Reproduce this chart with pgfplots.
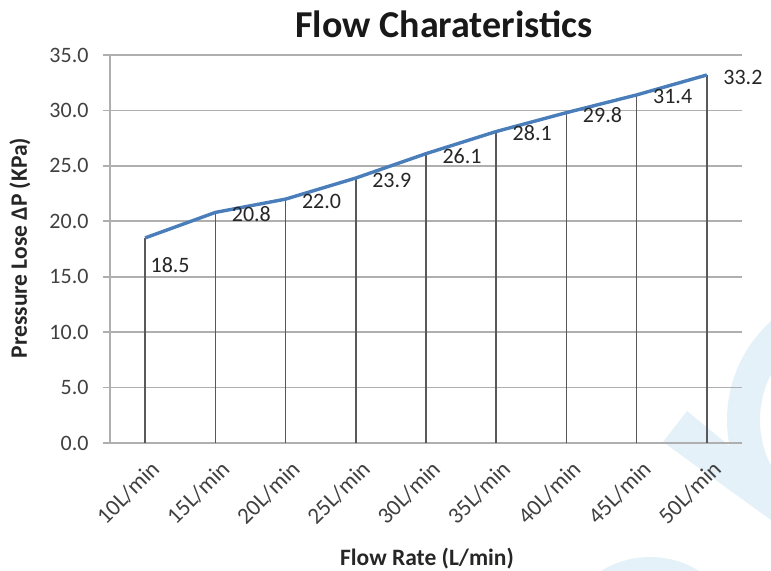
\documentclass[border=0pt]{standalone}
\usepackage{pgfplots}
\pgfplotsset{compat=1.18}
\usepackage{fontspec}
\setmainfont{Carlito}
\definecolor{wm}{RGB}{228,241,248}
\definecolor{linebl}{RGB}{74,126,187}
\definecolor{gridc}{RGB}{175,175,175}
\definecolor{txt}{RGB}{64,64,64}
\begin{document}
\begin{tikzpicture}
\useasboundingbox (-110bp,-128bp) rectangle (661bp,443bp);
\begin{scope}
\clip (-110bp,-128bp) rectangle (661bp,443bp);
\fill[wm, even odd rule] (750bp,23bp) circle (133bp) (750bp,23bp) circle (100bp);
\fill[wm] (553bp,1bp) -- (577bp,32bp) -- (661bp,-37bp) -- (661bp,-77bp) -- cycle;
\fill[wm] (540bp,-207bp) circle (93bp);
\end{scope}
\begin{axis}[
  at={(0,0)}, anchor=south west,
  scale only axis, width=632bp, height=388bp,
  xmin=-0.5, xmax=8.5, ymin=0, ymax=35,
  ytick={0,5,...,35},
  xtick={0,...,8},
  xticklabels={10L/min,15L/min,20L/min,25L/min,30L/min,35L/min,40L/min,45L/min,50L/min},
  axis x line*=bottom, axis y line*=left,
  axis line style={gridc, line width=1.6bp},
  ymajorgrids, grid style={gridc, line width=1.6bp},
  major tick length=7bp, tick align=outside,
  ytick style={gridc, line width=1.6bp},
  xtick style={draw=none},
  /pgf/number format/assume math mode=true,
  yticklabel style={font=\fontsize{22bp}{24bp}\selectfont, text=txt, xshift=-11bp,
    /pgf/number format/fixed, /pgf/number format/fixed zerofill, /pgf/number format/precision=1},
  xticklabel style={font=\fontsize{23bp}{26bp}\selectfont, text=txt, rotate=45, anchor=east, xshift=0bp, yshift=-18bp},
  clip=false,
]
\addplot[ycomb, draw=black!65, line width=1.6bp, mark=none] coordinates {
(0,18.5) (1,20.8) (2,22.0) (3,23.9) (4,26.1) (5,28.1) (6,29.8) (7,31.4) (8,33.2)};
\addplot[linebl, line width=3.4bp, mark=none] coordinates {
(0,18.5) (1,20.8) (2,22.0) (3,23.9) (4,26.1) (5,28.1) (6,29.8) (7,31.4) (8,33.2)};
\addplot[draw=none, mark=none, nodes near coords={\pgfmathprintnumber[fixed,fixed zerofill,precision=1]{\pgfplotspointmeta}},
  nodes near coords style={anchor=west, xshift=13bp, yshift=-2bp, text=black!85, font=\fontsize{22bp}{24bp}\selectfont}] coordinates {
(1,20.8) (2,22.0) (3,23.9) (4,26.1) (5,28.1) (6,29.8) (7,31.4) (8,33.2)};
\addplot[draw=none, mark=none, nodes near coords={\pgfmathprintnumber[fixed,fixed zerofill,precision=1]{\pgfplotspointmeta}},
  nodes near coords style={anchor=west, xshift=2bp, yshift=-27bp, text=black!85, font=\fontsize{22bp}{24bp}\selectfont}] coordinates {
(0,18.5)};
\end{axis}
\node[font=\fontsize{38bp}{42bp}\selectfont\bfseries, text=black!90] at (334bp,419bp) {Flow Charateristics};
\node[font=\fontsize{23.5bp}{26bp}\selectfont\bfseries, text=black!85] at (317bp,-116bp) {Flow Rate (L/min)};
\node[font=\fontsize{23.5bp}{26bp}\selectfont\bfseries, text=black!85, rotate=90] at (-90bp,195bp) {Pressure Lose ΔP (KPa)};
\end{tikzpicture}
\end{document}
